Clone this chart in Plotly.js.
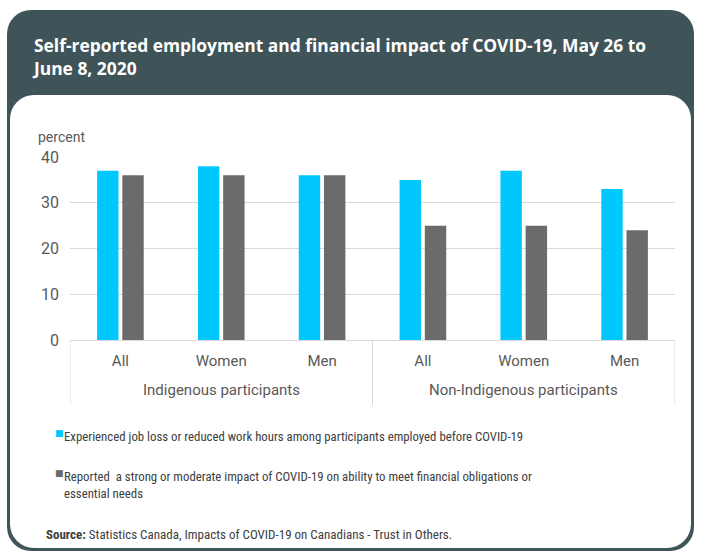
<!DOCTYPE html>
<html>
<head>
<meta charset="utf-8">
<script src="https://cdn.plot.ly/plotly-3.0.1.min.js"></script>
<style>
  html, body { margin:0; padding:0; background:#ffffff; }
  #wrap { position:relative; width:701px; height:552px; overflow:hidden; }
  #outer { position:absolute; left:7px; top:10px; width:687px; height:541px; background:#3f5459; border-radius:24px; }
  #inner { position:absolute; left:10px; top:95px; width:681px; height:453px; background:#ffffff; border-radius:24px; }
  #chart { position:absolute; left:0; top:0; width:701px; height:552px; }
</style>
</head>
<body>
<div id="wrap">
  <div id="outer"></div>
  <div id="inner"></div>
  <div id="chart"></div>
</div>
<script>
const groupNames = ["Indigenous participants", "Non-Indigenous participants"];
const categories = ["All", "Women", "Men", "All", "Women", "Men"];
const jobLoss = [37, 38, 36, 35, 37, 33];
const financialImpact = [36, 36, 36, 25, 25, 24];
const seriesNames = [
  "Experienced job loss or reduced work hours among participants employed before COVID-19",
  "Reported  a strong or moderate impact of COVID-19 on ability to meet financial obligations or<br>essential needs"
];
const yTicks = [0, 10, 20, 30, 40];

const L = 70, R = 675, T = 157, B = 340;
const px = x => (x - L) / (R - L);
const py = y => (B - y) / (B - T);
const FONT = "Roboto, 'Liberation Sans', sans-serif";
const NARROW = "'Roboto Condensed', Roboto, sans-serif";

const idx = categories.map((_, i) => i);
const perGroup = categories.length / groupNames.length;

const traces = [
  { type: "bar", name: seriesNames[0], x: idx, y: jobLoss,
    marker: { color: "#00c8ff" }, hoverinfo: "y" },
  { type: "bar", name: seriesNames[1], x: idx, y: financialImpact,
    marker: { color: "#6b6b6b" }, hoverinfo: "y" }
];

const dividers = [];
for (let g = 0; g <= groupNames.length; g++) {
  dividers.push({ type: "line", xref: "x", yref: "paper",
    x0: g * perGroup - 0.5, x1: g * perGroup - 0.5, y0: 0, y1: py(405),
    line: { color: "#d9d9d9", width: 1 } });
}

const groupAnns = groupNames.map((g, i) => ({
  xref: "x", yref: "paper", x: i * perGroup + (perGroup - 1) / 2, y: py(390),
  xanchor: "center", yanchor: "middle", showarrow: false, text: g,
  font: { family: FONT, size: 15, color: "#595959" }
}));

const layout = {
  width: 701, height: 552,
  margin: { l: L, r: 701 - R, t: T, b: 552 - B, pad: 0 },
  paper_bgcolor: "rgba(0,0,0,0)",
  plot_bgcolor: "rgba(0,0,0,0)",
  barmode: "group",
  bargap: 0.5,
  bargroupgap: 0.15,
  showlegend: false,
  font: { family: FONT, color: "#595959" },
  xaxis: {
    range: [-0.5, categories.length - 0.5],
    tickvals: idx, ticktext: categories,
    showline: true, linecolor: "#d9d9d9", linewidth: 1,
    showgrid: false, zeroline: false,
    tickfont: { family: FONT, size: 15, color: "#595959" },
    ticks: "", ticklabelstandoff: 7, fixedrange: true
  },
  yaxis: {
    range: [0, 40],
    tickvals: yTicks,
    ticktext: yTicks.map(String),
    showgrid: true, gridcolor: "#d9d9d9", gridwidth: 1,
    zeroline: false, showline: false,
    tickfont: { family: FONT, size: 16, color: "#595959" },
    ticklabelstandoff: 10,
    fixedrange: true
  },
  shapes: dividers,
  annotations: groupAnns.concat([
    { xref: "paper", yref: "paper", x: px(30), y: py(56), xanchor: "left", yanchor: "middle",
      align: "left", showarrow: false,
      text: "Self-reported employment and financial impact of COVID-19, May 26 to<br>June 8, 2020",
      font: { family: "'Open Sans', Lato, sans-serif", size: 17.4, color: "#ffffff", weight: 700 } },
    { xref: "paper", yref: "paper", x: px(36), y: py(137), xanchor: "left", yanchor: "middle",
      showarrow: false, text: "percent",
      font: { family: FONT, size: 14, color: "#595959" } },
    { xref: "paper", yref: "paper", x: px(53), y: py(433), xanchor: "left", yanchor: "middle",
      showarrow: false, text: "■", font: { family: "DejaVu Sans", size: 9, color: "#00c8ff" } },
    { xref: "paper", yref: "paper", x: px(62), y: py(436), xanchor: "left", yanchor: "middle",
      align: "left", showarrow: false, text: seriesNames[0],
      font: { family: NARROW, size: 12.8, color: "#404040" } },
    { xref: "paper", yref: "paper", x: px(53), y: py(473), xanchor: "left", yanchor: "middle",
      showarrow: false, text: "■", font: { family: "DejaVu Sans", size: 9, color: "#6b6b6b" } },
    { xref: "paper", yref: "paper", x: px(62), y: py(485), xanchor: "left", yanchor: "middle",
      align: "left", showarrow: false, text: seriesNames[1],
      font: { family: NARROW, size: 12.8, color: "#404040" } },
    { xref: "paper", yref: "paper", x: px(44), y: py(534), xanchor: "left", yanchor: "middle",
      align: "left", showarrow: false,
      text: "<b>Source:</b> Statistics Canada, Impacts of COVID-19 on Canadians - Trust in Others.",
      font: { family: NARROW, size: 13, color: "#404040" } }
  ])
};

Plotly.newPlot("chart", traces, layout, { displayModeBar: false, staticPlot: true });
</script>
</body>
</html>
